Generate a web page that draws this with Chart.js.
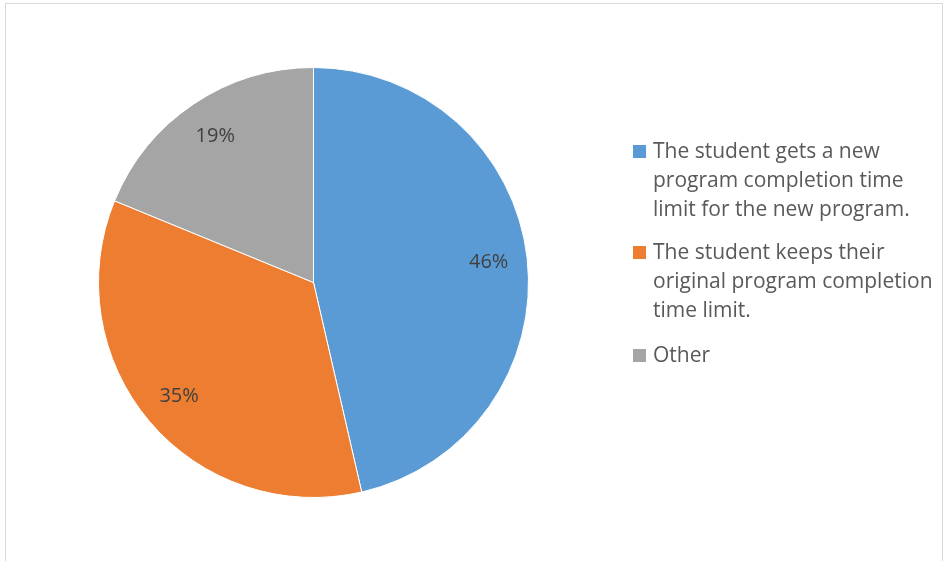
<!DOCTYPE html>
<html>
<head>
<meta charset="utf-8">
<script src="https://cdn.jsdelivr.net/npm/chart.js@4"></script>
<style>
  html, body { margin: 0; padding: 0; background: #fff; }
  #wrap { position: relative; width: 945px; height: 561px; overflow: hidden; }
  #frame { position: absolute; left: 5px; top: 3px; width: 938px; height: 600px; border: 1px solid #d9d9d9; box-sizing: border-box; }
  #chart { position: absolute; left: 0; top: 0; }
</style>
</head>
<body>
<div id="wrap">
  <div id="frame"></div>
  <canvas id="chart" width="945" height="561"></canvas>
</div>
<script>
const categories = [
  ["The student gets a new", "program completion time", "limit for the new program."],
  ["The student keeps their", "original program completion", "time limit."],
  ["Other"]
];
const values = [46.4, 34.8, 18.8];
const percentLabels = ["46%", "35%", "19%"];
const colors = ["#5b9bd5", "#ed7d31", "#a5a5a5"];

const font = "'Open Sans', 'Liberation Sans', sans-serif";

// percent labels inside each slice
const sliceLabels = {
  id: "sliceLabels",
  afterDatasetsDraw(chart) {
    const ctx = chart.ctx;
    const meta = chart.getDatasetMeta(0);
    ctx.save();
    ctx.font = "20px " + font;
    ctx.fillStyle = "#404040";
    ctx.textAlign = "center";
    ctx.textBaseline = "middle";
    meta.data.forEach((arc, i) => {
      const mid = (arc.startAngle + arc.endAngle) / 2;
      const r = arc.outerRadius * 0.82;
      ctx.fillText(percentLabels[i], arc.x + Math.cos(mid) * r, arc.y + Math.sin(mid) * r);
    });
    ctx.restore();
  }
};

// legend on the right with wrapped lines
const sideLegend = {
  id: "sideLegend",
  afterDraw(chart) {
    const ctx = chart.ctx;
    const x = 633, lineH = 29;
    const tops = [152, 253, 356];
    ctx.save();
    ctx.font = "21px " + font;
    ctx.textBaseline = "middle";
    categories.forEach((lines, i) => {
      ctx.fillStyle = colors[i];
      ctx.fillRect(x, tops[i] - 7, 13, 13);
      ctx.fillStyle = "#595959";
      lines.forEach((t, j) => ctx.fillText(t, x + 20, tops[i] + j * lineH));
    });
    ctx.restore();
  }
};

new Chart(document.getElementById("chart"), {
  type: "pie",
  data: {
    labels: categories.map(c => c.join(" ")),
    datasets: [{
      data: values,
      backgroundColor: colors,
      borderColor: "#ffffff",
      borderWidth: 1
    }]
  },
  options: {
    responsive: false,
    animation: false,
    layout: { padding: { left: 98, top: 67, right: 416, bottom: 63 } },
    plugins: {
      legend: { display: false },
      tooltip: { enabled: false }
    }
  },
  plugins: [sliceLabels, sideLegend]
});
</script>
</body>
</html>
